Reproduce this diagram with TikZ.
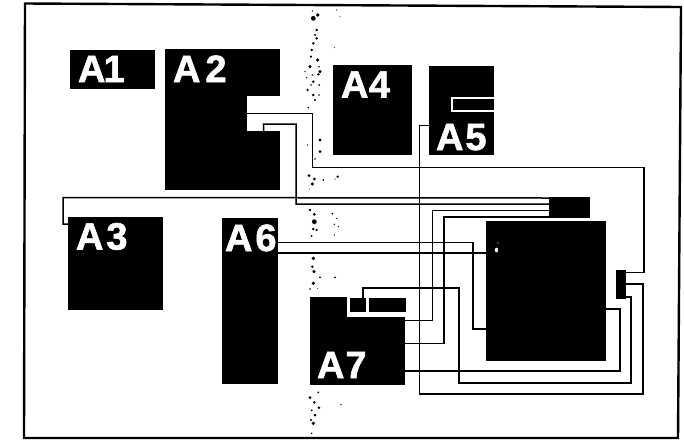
\documentclass[tikz,border=0pt]{standalone}
\usepackage{fontspec}
\setmainfont[BoldFeatures={FakeBold=1.6}]{Liberation Sans}
\newcommand{\LabDig}[2]{A\kern#2pt #1}
\tikzset{
  blk/.style={fill=black,draw=none,inner sep=0pt,outer sep=0pt,rectangle},
  cut/.style={fill=white,draw=none,inner sep=0pt,outer sep=0pt,rectangle},
  lab/.style={anchor=base west,inner sep=0pt,outer sep=0pt,text=white,font=\fontsize{38}{38}\selectfont\bfseries},
  wire/.style={draw=black,line width=1.5pt,line join=miter},
  thinwire/.style={draw=black,line width=1.1pt,line join=miter},
  frm/.style={draw=black,line width=2.4pt,line join=miter}
}
\begin{document}
\begin{tikzpicture}[x=1pt,y=-1pt]
\useasboundingbox (0,0) rectangle (684,440);
\fill[white] (0,0) rectangle (684,440);
% frame
\draw[frm] (25,3.5) -- (681,7) -- (678,438) -- (24,438) -- cycle;
% speckles
\foreach \x/\y/\r in {55/40/2.4,68/30/1.9,52/18/.8,65/75/1.4,60/90/1.2,65/100/1.4,55/115/1.4,50/135/1.4,48/155/1.2,68/165/1.8,45/185/1.7,72/185/.9,75/200/1.7,70/208/1.4,30/200/.7,35/218/.8,52/210/.9,55/230/1.4,72/240/1,48/240/.9,38/255/1.2,55/270/1.4,60/285/1.2,72/270/.8,40/308/.9,125/15/.6,135/35/.5,118/128/.5}
  \fill (295+\x/3,5+\y/3) circle (\r);
\foreach \x/\y/\r in {75/15/1.7,75/50/1.5,38/30/.7,60/72/.8,42/122/1.5,58/132/1.5,52/147/1.8,85/135/1,128/125/1.3,120/132/.7,44/162/.5,45/225/1.3,58/238/1.5,58/260/2.4,55/282/1.4,65/285/1.2,50/303/1,112/236/1,125/250/.7,118/268/.8,130/275/.7,118/300/.7,55/370/1.9,52/395/1.3,57/410/1.7,75/427/1,120/427/1,55/445/1.8,45/462/.9,68/460/.5}
  \fill (295+\x/3,135+\y/3) circle (\r);
\foreach \x/\y/\r in {70/22/1,45/38/1.5,58/52/1.4,72/68/1.4,50/76/1,60/90/1.5,48/105/1.2,55/115/1.8,50/145/.9,138/58/.7}
  \fill (295+\x/3,385+\y/3) circle (\r);
% blocks
\node[blk,minimum width=85pt,minimum height=39pt] (a1) at (112.5,69.5) {};
\node[blk,minimum width=115pt,minimum height=141pt] (a2) at (222.5,119.5) {};
\node[cut,minimum width=33.5pt,minimum height=35pt] (a2n) at (263.75,113.5) {};
\node[blk,minimum width=95pt,minimum height=93pt] (a3) at (115.5,263.5) {};
\node[blk,minimum width=79pt,minimum height=90pt] (a4) at (372.5,110) {};
\node[blk,minimum width=65pt,minimum height=89pt] (a5) at (461.5,110.5) {};
\node[blk,minimum width=56pt,minimum height=166pt] (a6) at (250,301) {};
\node[blk,minimum width=95pt,minimum height=88pt] (a7) at (357.5,341) {};
\node[cut,minimum width=59pt,minimum height=20pt] (a7c) at (376.5,307) {};
\node[blk,minimum width=16pt,minimum height=14pt] (a7p) at (358,305) {};
\node[blk,minimum width=37pt,minimum height=14pt] (a7q) at (387.5,305) {};
\node[blk,minimum width=41pt,minimum height=21pt] (con) at (569.5,207.5) {};
\node[blk,minimum width=120pt,minimum height=140pt] (main) at (546,291) {};
\node[blk,minimum width=10pt,minimum height=29pt] (ctl) at (621,284.5) {};
% inner details
\draw[white,line width=2pt] (494,97.5) -- (452,97.5) -- (452,111) -- (494,111);
\fill[white] (496.5,250) ellipse (1.6 and 2.4);
\fill[white] (498,243) circle (.6);
% labels
\node[lab] (l1) at (78,82) {\LabDig{1}{-2}};
\node[lab] (l2) at (173,82) {\LabDig{2}{5}};
\node[lab] (l3) at (76,249.5) {\LabDig{3}{3}};
\node[lab] (l4) at (341,97.5) {\LabDig{4}{0.5}};
\node[lab] (l5) at (436,150) {\LabDig{5}{2}};
\node[lab] (l6) at (225,251) {\LabDig{6}{3}};
\node[lab] (l7) at (317,378) {\LabDig{7}{1}};
% connector ends
\coordinate (a3w) at (a3.west |- 0,224);
\coordinate (a5w) at (a5.west |- 0,125.5);
\coordinate (a6a) at (a6.east |- 0,242.5);
\coordinate (a6b) at (a6.east |- 0,253);
\coordinate (a7a) at (a7.east |- 0,320.5);
\coordinate (a7b) at (a7.east |- 0,343.5);
\coordinate (a7d) at (a7.east |- 0,371);
\coordinate (a7t) at (363,298);
\coordinate (c1) at (con.west |- 0,198);
\coordinate (c2) at (con.west |- 0,204);
\coordinate (c3) at (con.west |- 0,210.5);
\coordinate (c4) at (con.west |- 0,217);
\coordinate (m1) at (main.west |- 0,329);
\coordinate (m2) at (main.west |- 0,253);
\coordinate (m3) at (main.east |- 0,309);
\coordinate (t1) at (ctl.east |- 0,272.5);
\coordinate (t2) at (ctl.east |- 0,284);
\coordinate (t3) at (ctl.east |- 0,297);
% connectors
\draw[wire] (a2n.west) -- (312.5,113.5) -- (312.5,167.5) -- (644,167.5) -- (644,272.5) -- (t1);
\draw[wire] (a2n.south) -- (263.5,124) -- (296,124) -- (296,204) -- (c2);
\draw[wire] (a3w) -- (63,224) -- (63,197.5) -- (c1);
\draw[wire] (a5w) -- (419.5,125.5) -- (419.5,394) -- (643,394) -- (643,284) -- (t2);
\draw[wire] (a7a) -- (432.5,320.5) -- (432.5,210.5) -- (c3);
\draw[wire] (a7b) -- (444,343.5) -- (444,217) -- (c4);
\draw[wire] (a7t) -- (363,288) -- (459,288) -- (459,383) -- (631,383) -- (631,297) -- (t3);
\draw[wire] (a7d) -- (620,371) -- (620,309) -- (m3);
\draw[wire] (a6a) -- (473,242.5) -- (473,329) -- (m1);
\draw[thinwire] (a6b) -- (m2);
\end{tikzpicture}
\end{document}
